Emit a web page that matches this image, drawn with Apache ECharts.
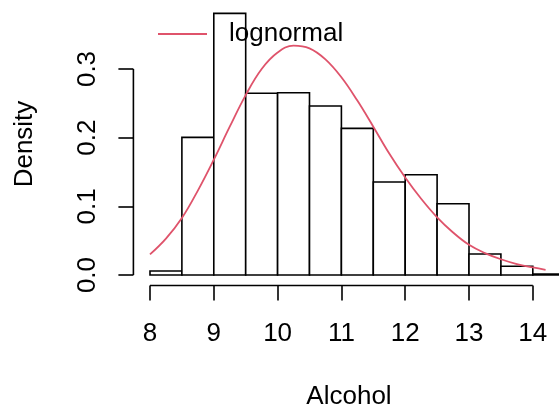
<!DOCTYPE html>
<html>
<head>
<meta charset="utf-8">
<script src="https://cdn.jsdelivr.net/npm/echarts@6/dist/echarts.min.js"></script>
<style>
  html, body { margin: 0; padding: 0; background: #fff; }
  #chart { width: 559px; height: 415px; }
</style>
</head>
<body>
<div id="chart"></div>
<script>
// Histogram of wine alcohol content (density scale) with a fitted lognormal curve.
const breaks = [8, 8.5, 9, 9.5, 10, 10.5, 11, 11.5, 12, 12.5, 13, 13.5, 14, 14.5];
const density = [0.0058, 0.2005, 0.381, 0.2646, 0.2655, 0.2461, 0.2136, 0.1354, 0.1461, 0.1038, 0.0306, 0.0127, 0.0015];

const curveX = [8.0, 8.25, 8.5, 8.75, 9.0, 9.25, 9.5, 9.75, 10.0, 10.25, 10.5, 10.75, 11.0,
                11.25, 11.5, 11.75, 12.0, 12.25, 12.5, 12.75, 13.0, 13.25, 13.5, 13.75, 14.0, 14.2];
const curveY = [0.030, 0.053, 0.083, 0.123, 0.168, 0.216, 0.262, 0.300, 0.324, 0.334, 0.330, 0.314, 0.288,
                0.254, 0.216, 0.177, 0.142, 0.111, 0.084, 0.062, 0.044, 0.032, 0.023, 0.016, 0.011, 0.0075];

const xTicks = [8, 9, 10, 11, 12, 13, 14];
const yTicks = [0, 0.1, 0.2, 0.3];

const seriesName = 'lognormal';
const xTitle = 'Alcohol';
const yTitle = 'Density';

// R-style axis extents: data range padded by 4% on each side
const xLo = breaks[0], xHi = breaks[breaks.length - 1];
const xPad = (xHi - xLo) * 0.04;
const yTop = Math.max(...density);
const yPad = yTop * 0.04;
const xMin = xLo - xPad, xMax = xHi + xPad;
const yMin = -yPad, yMax = yTop + yPad;

const FONT = '"Liberation Sans", Arial, Helvetica, sans-serif';
const FS = 26;
const LW = 1.6;
const RED = '#DF536B';

const chart = echarts.init(document.getElementById('chart'), null, { renderer: 'canvas' });

// the plotting region runs past the right edge of the canvas
const gridLeft = 133.4, gridTop = 2.9, gridW = 447.9, gridH = 282.6;

chart.setOption({
  animation: false,
  backgroundColor: '#ffffff',
  grid: { left: gridLeft, top: gridTop, width: gridW, height: gridH,
          containLabel: false, outerBoundsMode: 'none' },
  legend: {
    data: [{ name: seriesName, icon: 'rect' }],
    left: 158, top: 21, padding: 0,
    itemWidth: 49, itemHeight: 2,
    textStyle: { fontFamily: FONT, fontSize: FS, color: '#000', lineHeight: 26, padding: [0, 0, 0, 17] },
    selectedMode: false
  },
  xAxis: {
    type: 'value', min: xMin, max: xMax,
    splitLine: { show: false },
    axisLine: { show: false, onZero: false },
    axisTick: { show: true, customValues: xTicks, length: 15, inside: false,
                lineStyle: { color: '#000', width: LW } },
    axisLabel: { customValues: xTicks, fontFamily: FONT, fontSize: FS, color: '#000',
                 margin: 48, verticalAlign: 'middle', formatter: v => String(v) }
  },
  yAxis: {
    type: 'value', min: yMin, max: yMax,
    splitLine: { show: false },
    axisLine: { show: false, onZero: false },
    axisTick: { show: true, customValues: yTicks, length: 15, inside: false,
                lineStyle: { color: '#000', width: LW } },
    axisLabel: { customValues: yTicks, fontFamily: FONT, fontSize: FS, color: '#000',
                 rotate: 90, align: 'center', verticalAlign: 'middle', margin: 46,
                 formatter: v => v.toFixed(1) }
  },
  graphic: [
    { type: 'text', x: 349, y: 397, silent: true,
      style: { text: xTitle, font: FS + 'px ' + FONT, fill: '#000', align: 'center', verticalAlign: 'middle' } },
    { type: 'text', x: 25, y: 144, rotation: Math.PI / 2, silent: true,
      style: { text: yTitle, font: FS + 'px ' + FONT, fill: '#000', align: 'center', verticalAlign: 'middle' } }
  ],
  series: [
    {
      name: 'histogram', type: 'custom', silent: true, z: 2,
      data: density.map((d, i) => [breaks[i], breaks[i + 1], d]),
      encode: { x: [0, 1], y: 2 },
      renderItem: function (params, api) {
        const p0 = api.coord([api.value(0), api.value(2)]);
        const p1 = api.coord([api.value(1), 0]);
        return {
          type: 'rect',
          shape: { x: p0[0], y: p0[1], width: p1[0] - p0[0], height: p1[1] - p0[1] },
          style: { fill: '#ffffff', stroke: '#000000', lineWidth: LW }
        };
      }
    },
    {
      // x axis line spanning the tick range
      name: 'xaxisline', type: 'line', silent: true, clip: false, symbol: 'none', z: 3,
      data: [[xTicks[0], yMin], [xTicks[xTicks.length - 1], yMin]],
      lineStyle: { color: '#000', width: LW }
    },
    {
      // y axis line spanning the tick range
      name: 'yaxisline', type: 'line', silent: true, clip: false, symbol: 'none', z: 3,
      data: [[xMin, yTicks[0]], [xMin, yTicks[yTicks.length - 1]]],
      lineStyle: { color: '#000', width: LW }
    },
    {
      name: seriesName, type: 'line', silent: true, clip: false, symbol: 'none', z: 4,
      smooth: 0.4,
      data: curveX.map((x, i) => [x, curveY[i]]),
      lineStyle: { color: RED, width: 1.8 },
      itemStyle: { color: RED }
    }
  ]
});
</script>
</body>
</html>
